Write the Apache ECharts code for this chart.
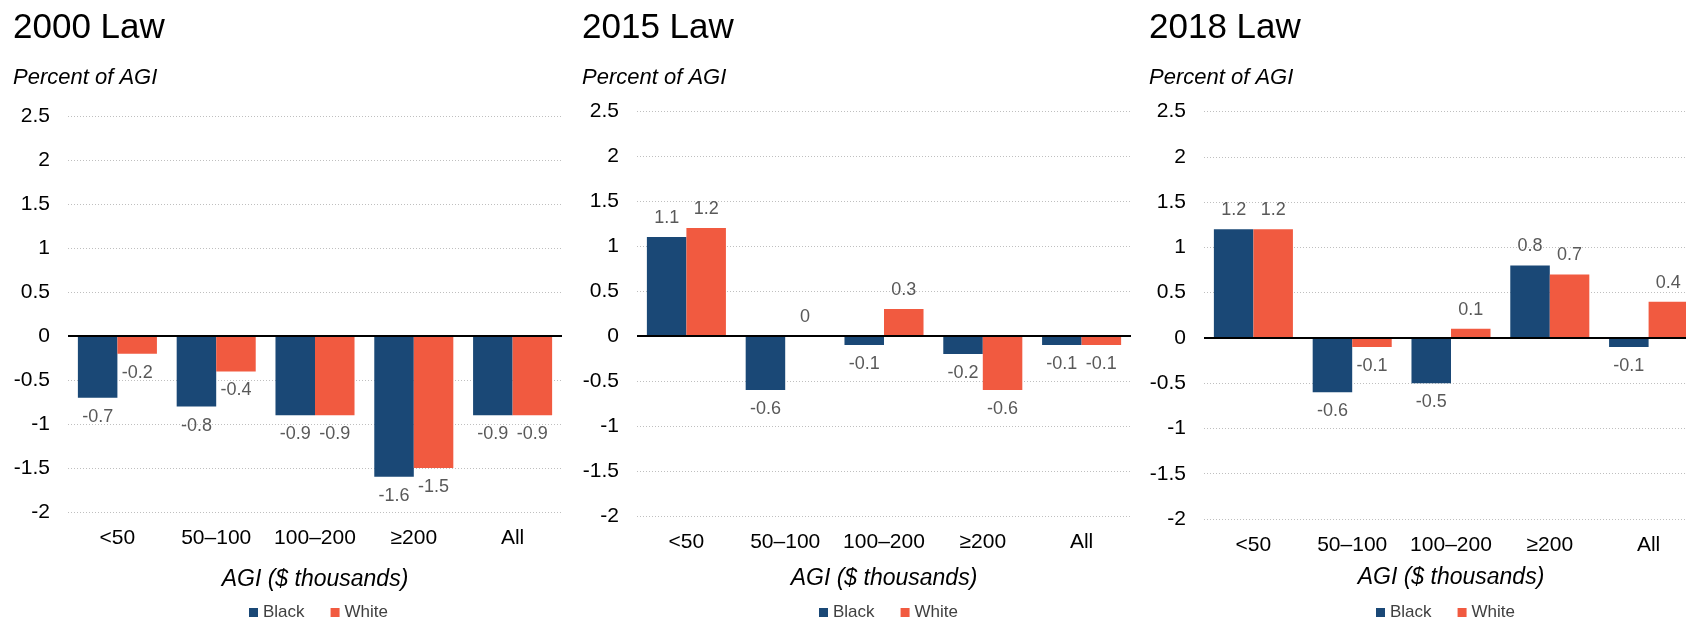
<!DOCTYPE html>
<html>
<head>
<meta charset="utf-8">
<script src="https://cdn.jsdelivr.net/npm/echarts@6/dist/echarts.min.js"></script>
<style>
  html, body { margin: 0; padding: 0; background: #fff; }
  #chart { width: 1686px; height: 619px; }
</style>
</head>
<body>
<div id="chart"></div>
<script>
// data
const categories = ['<50', '50–100', '100–200', '≥200', 'All']
const lawTitles = ['2000 Law', '2015 Law', '2018 Law']
const seriesNames = ['Black', 'White']
const black2000 = [-0.7, -0.8, -0.9, -1.6, -0.9]
const white2000 = [-0.2, -0.4, -0.9, -1.5, -0.9]
const black2015 = [1.1, -0.6, -0.1, -0.2, -0.1]
const white2015 = [1.2, 0, 0.3, -0.6, -0.1]
const black2018 = [1.2, -0.6, -0.5, 0.8, -0.1]
const white2018 = [1.2, -0.1, 0.1, 0.7, 0.4]
const yMin = -2
const yMax = 2.5
const yStep = 0.5

const panelData = [
  [black2000, white2000],
  [black2015, white2015],
  [black2018, white2018],
]

// panel layout (pixels)
const panels = [
  { left: 68, top: 116.5, bottom: 512, titleX: 13, nameY: 580, legendX: 244 },
  { left: 637, top: 111, bottom: 516, titleX: 582, nameY: 579, legendX: 814 },
  { left: 1204, top: 111.5, bottom: 519, titleX: 1149, nameY: 578, legendX: 1371 },
]
const plotWidth = 494
const colors = ['#1a4876', '#f15a40']
const FONT = '"Liberation Sans", Arial, sans-serif'

const chart = echarts.init(document.getElementById('chart'))

const grid = []
const xAxis = []
const yAxis = []
const series = []
const legend = []
const graphic = []

panels.forEach((p, i) => {
  grid.push({
    left: p.left,
    top: p.top,
    width: plotWidth,
    height: p.bottom - p.top,
    containLabel: false,
    outerBoundsMode: 'none', // 第三个图右侧被截断，不要自动收缩
  })
  xAxis.push({
    type: 'category',
    gridIndex: i,
    data: categories,
    axisLine: { show: false },
    axisTick: { show: false },
    axisLabel: { fontSize: 21, color: '#000', fontFamily: FONT, margin: 16, interval: 0 },
  })
  yAxis.push({
    type: 'value',
    gridIndex: i,
    min: yMin,
    max: yMax,
    interval: yStep,
    axisLine: { show: false },
    axisTick: { show: false },
    axisLabel: { fontSize: 21, color: '#000', fontFamily: FONT, margin: 18 },
    splitLine: { lineStyle: { color: '#bfbfbf', type: [1, 2], width: 1 } },
  })

  panelData[i].forEach((values, k) => {
    const s = {
      name: seriesNames[k],
      type: 'bar',
      xAxisIndex: i,
      yAxisIndex: i,
      barGap: '0%',
      barCategoryGap: '20%',
      itemStyle: { color: colors[k] },
      label: {
        show: true,
        fontSize: 18,
        color: '#595959',
        fontFamily: FONT,
        distance: 10,
      },
      data: values.map(v => ({ value: v, label: { position: v < 0 ? 'bottom' : 'top' } })),
    }
    // 零线
    if (k === 1) {
      s.markLine = {
        silent: true,
        symbol: ['none', 'none'],
        label: { show: false },
        lineStyle: { color: '#000', width: 2, type: 'solid' },
        data: [{ yAxis: 0 }],
      }
    }
    series.push(s)
  })

  legend.push({
    data: seriesNames,
    left: p.legendX,
    top: 599,
    icon: 'rect',
    itemWidth: 9,
    itemHeight: 9,
    itemGap: 26,
    textStyle: { fontSize: 17, color: '#404040', fontFamily: FONT },
  })

  graphic.push(
    {
      type: 'text',
      x: p.titleX,
      y: 28,
      style: { text: lawTitles[i], font: '35px ' + FONT, fill: '#000', align: 'left', verticalAlign: 'middle' },
    },
    {
      type: 'text',
      x: p.titleX,
      y: 78,
      style: { text: 'Percent of AGI', font: 'italic 22px ' + FONT, fill: '#000', align: 'left', verticalAlign: 'middle' },
    },
    {
      type: 'text',
      x: p.left + plotWidth / 2,
      y: p.nameY,
      style: { text: 'AGI ($ thousands)', font: 'italic 23px ' + FONT, fill: '#000', align: 'center', verticalAlign: 'middle' },
    }
  )
})

chart.setOption({
  animation: false,
  grid,
  xAxis,
  yAxis,
  legend,
  graphic,
  series,
})
</script>
</body>
</html>
